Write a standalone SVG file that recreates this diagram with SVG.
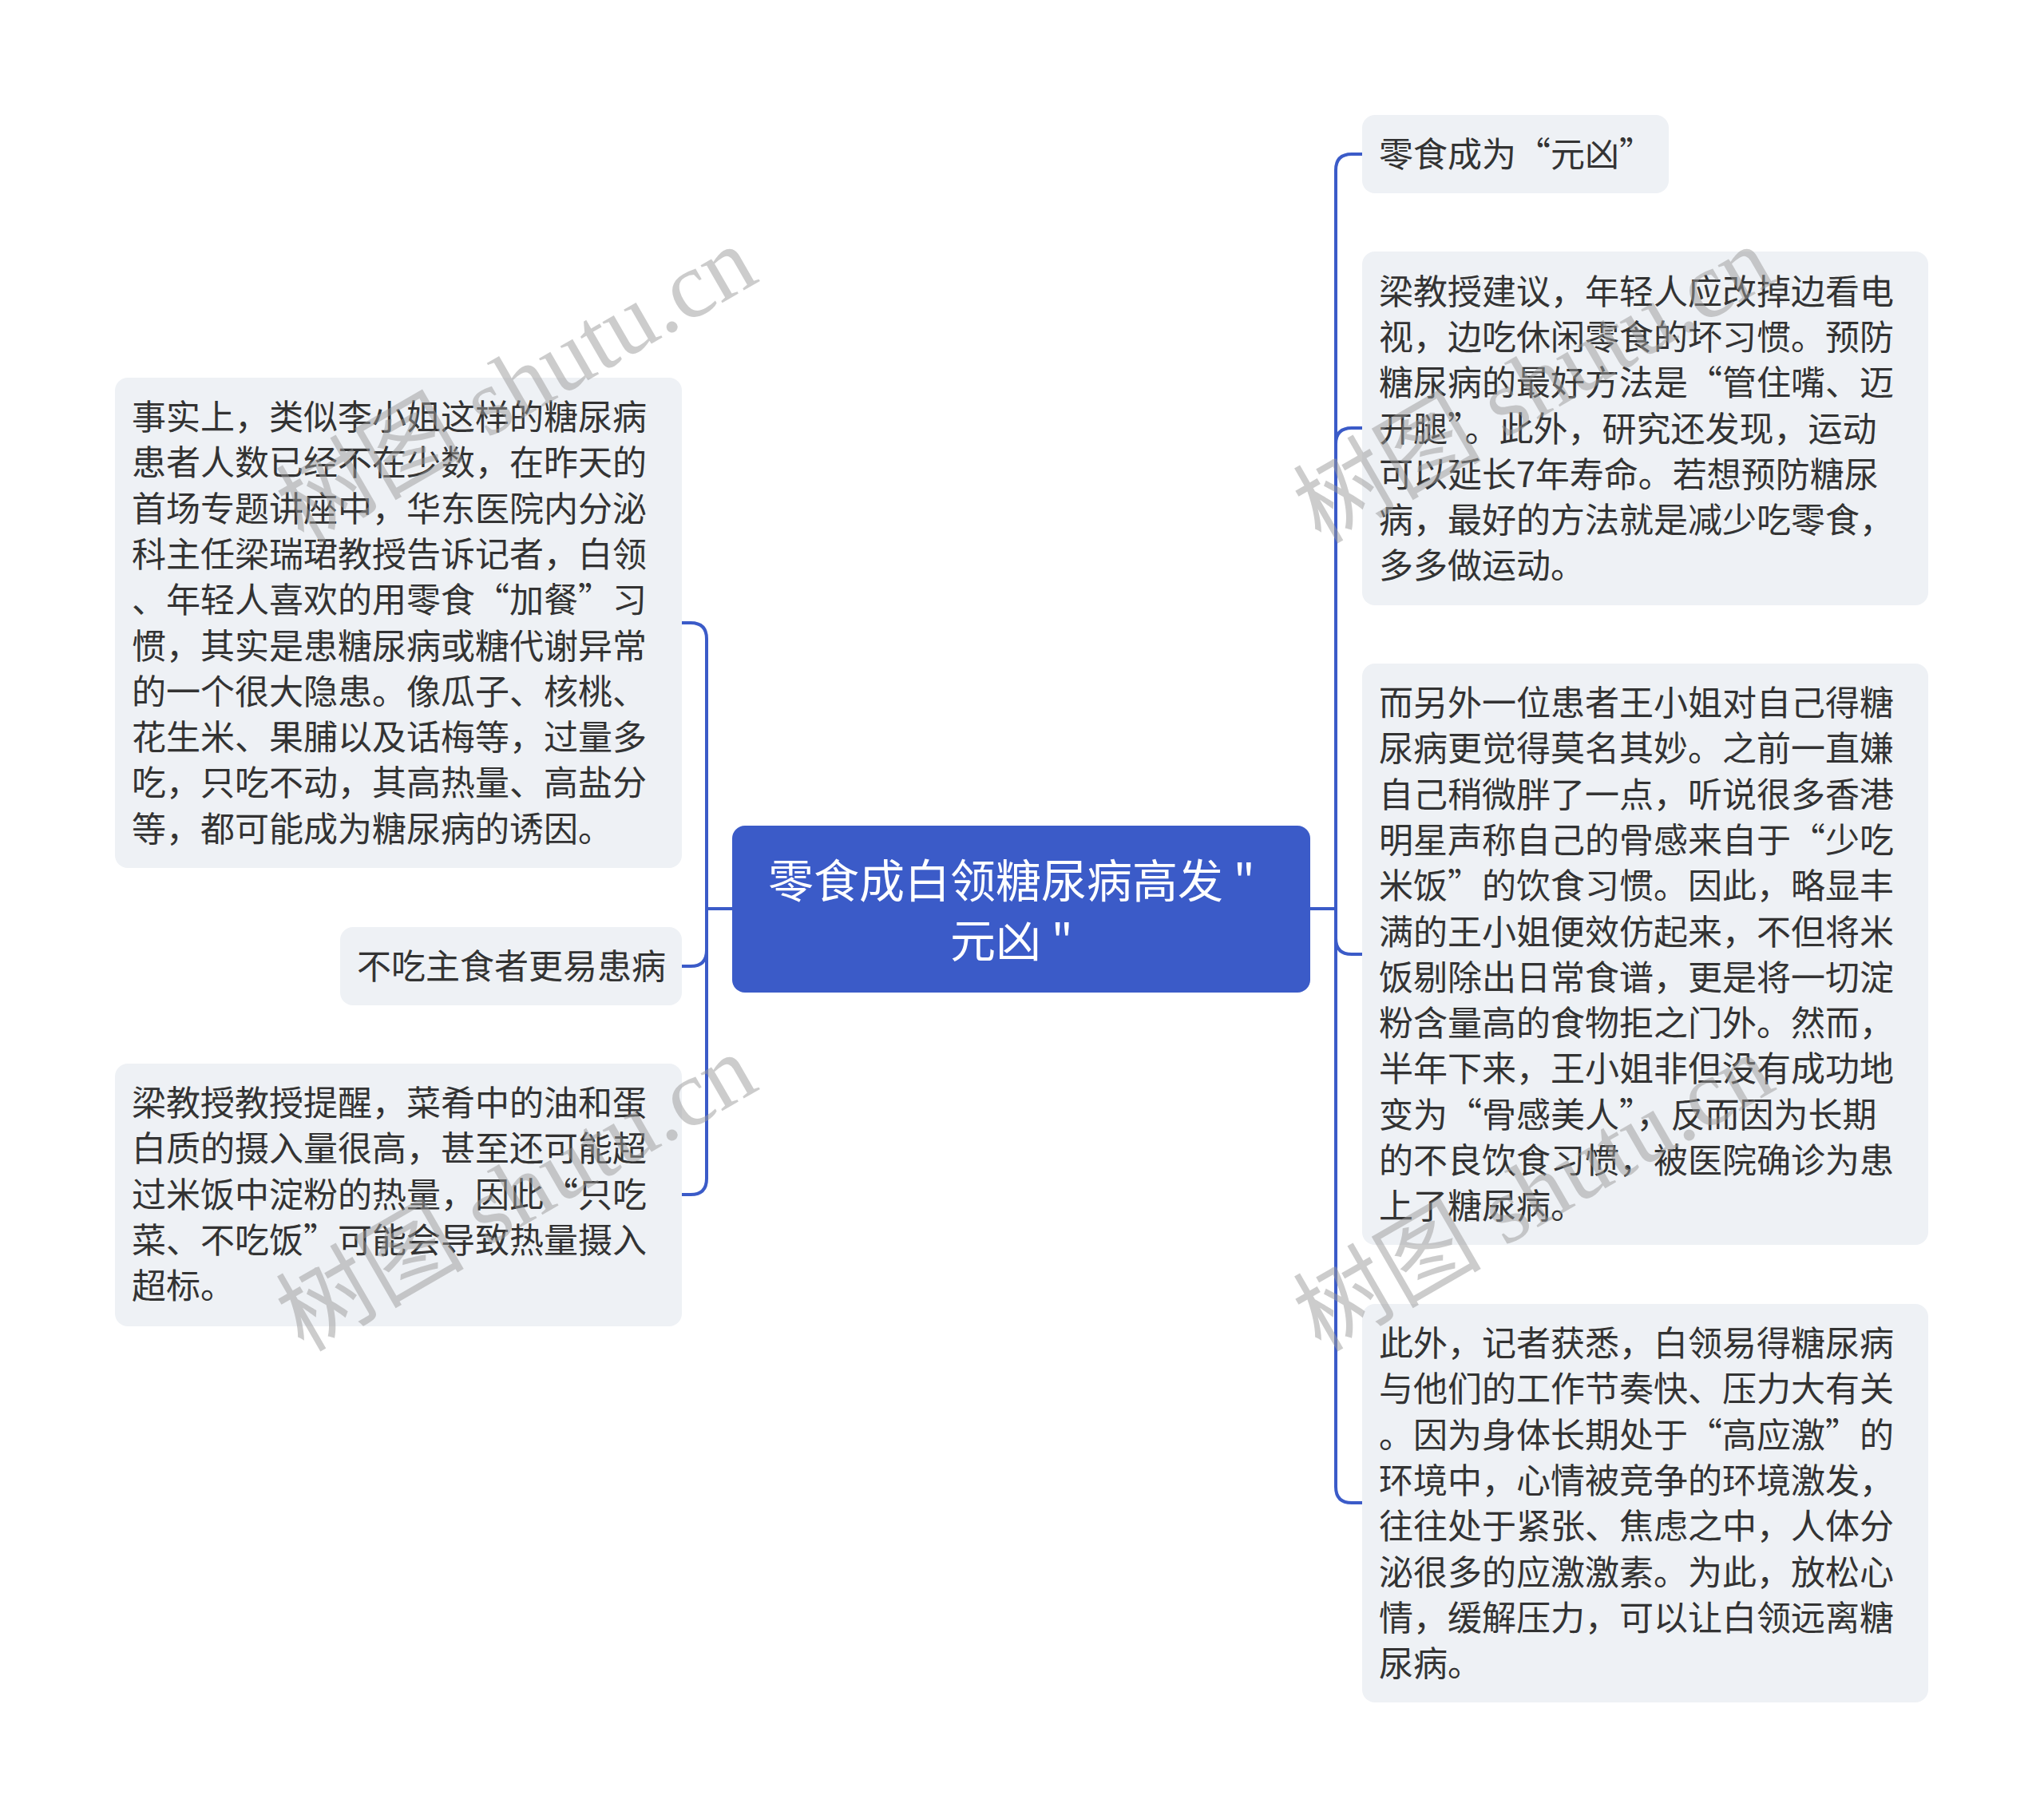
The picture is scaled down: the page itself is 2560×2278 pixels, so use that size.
<svg xmlns="http://www.w3.org/2000/svg" width="2560" height="2278" viewBox="0 0 2560 2278">
<style>
.node{fill:#eef1f5}
.t{font-family:"Noto Sans CJK SC","Noto Sans",sans-serif;font-size:43px;fill:#333333}
.title{font-family:"Noto Sans CJK SC","Noto Sans",sans-serif;font-size:57px;fill:#ffffff;text-anchor:middle}
.conn{fill:none;stroke:#3b5bc8;stroke-width:4;stroke-linecap:round}
.wm{font-family:"Liberation Serif","Noto Sans CJK SC",serif;font-size:118px;fill:#9a9a9a;fill-opacity:0.5}
</style>
<rect width="2560" height="2278" fill="#ffffff"/>
<g id="connectors">
<path class="conn" d="M1641,1138 H1673"/>
<path class="conn" d="M1673,1138 V213 Q1673,193 1693,193 H1706"/>
<path class="conn" d="M1673,1138 V556 Q1673,536 1693,536 H1706"/>
<path class="conn" d="M1673,1138 V1175 Q1673,1195 1693,1195 H1706"/>
<path class="conn" d="M1673,1138 V1862 Q1673,1882 1693,1882 H1706"/>
<path class="conn" d="M917,1138 H885"/>
<path class="conn" d="M885,1138 V800 Q885,780 865,780 H854"/>
<path class="conn" d="M885,1138 V1190 Q885,1210 865,1210 H854"/>
<path class="conn" d="M885,1138 V1476 Q885,1496 865,1496 H854"/>
</g>
<g id="center">
<rect x="917" y="1034" width="724" height="209" rx="16" fill="#3b5bc8"/>
<text class="title" x="1267" y="1124">零食成白领糖尿病高发 "</text>
<text class="title" x="1267" y="1199">元凶 "</text>
</g>
<g id="left1">
<rect class="node" x="144" y="473" width="710" height="614" rx="16"/>
<text class="t" x="165" y="538">事实上，类似李小姐这样的糖尿病</text>
<text class="t" x="165" y="595.3">患者人数已经不在少数，在昨天的</text>
<text class="t" x="165" y="652.6">首场专题讲座中，华东医院内分泌</text>
<text class="t" x="165" y="709.9">科主任梁瑞珺教授告诉记者，白领</text>
<text class="t" x="165" y="767.2">、年轻人喜欢的用零食“加餐”习</text>
<text class="t" x="165" y="824.5">惯，其实是患糖尿病或糖代谢异常</text>
<text class="t" x="165" y="881.8">的一个很大隐患。像瓜子、核桃、</text>
<text class="t" x="165" y="939.1">花生米、果脯以及话梅等，过量多</text>
<text class="t" x="165" y="996.4">吃，只吃不动，其高热量、高盐分</text>
<text class="t" x="165" y="1053.7">等，都可能成为糖尿病的诱因。</text>
</g>
<g id="left2">
<rect class="node" x="426" y="1161" width="428" height="98" rx="16"/>
<text class="t" x="447" y="1226">不吃主食者更易患病</text>
</g>
<g id="left3">
<rect class="node" x="144" y="1332" width="710" height="329" rx="16"/>
<text class="t" x="165" y="1397">梁教授教授提醒，菜肴中的油和蛋</text>
<text class="t" x="165" y="1454.3">白质的摄入量很高，甚至还可能超</text>
<text class="t" x="165" y="1511.6">过米饭中淀粉的热量，因此“只吃</text>
<text class="t" x="165" y="1568.9">菜、不吃饭”可能会导致热量摄入</text>
<text class="t" x="165" y="1626.2">超标。</text>
</g>
<g id="right1">
<rect class="node" x="1706" y="144" width="384" height="98" rx="16"/>
<text class="t" x="1727" y="209">零食成为“元凶”</text>
</g>
<g id="right2">
<rect class="node" x="1706" y="315" width="709" height="443" rx="16"/>
<text class="t" x="1727" y="380.6">梁教授建议，年轻人应改掉边看电</text>
<text class="t" x="1727" y="437.9">视，边吃休闲零食的坏习惯。预防</text>
<text class="t" x="1727" y="495.2">糖尿病的最好方法是“管住嘴、迈</text>
<text class="t" x="1727" y="552.5">开腿”。此外，研究还发现，运动</text>
<text class="t" x="1727" y="609.8">可以延长7年寿命。若想预防糖尿</text>
<text class="t" x="1727" y="667.1">病，最好的方法就是减少吃零食，</text>
<text class="t" x="1727" y="724.4">多多做运动。</text>
</g>
<g id="right3">
<rect class="node" x="1706" y="831" width="709" height="728" rx="16"/>
<text class="t" x="1727" y="896">而另外一位患者王小姐对自己得糖</text>
<text class="t" x="1727" y="953.3">尿病更觉得莫名其妙。之前一直嫌</text>
<text class="t" x="1727" y="1010.6">自己稍微胖了一点，听说很多香港</text>
<text class="t" x="1727" y="1067.9">明星声称自己的骨感来自于“少吃</text>
<text class="t" x="1727" y="1125.2">米饭”的饮食习惯。因此，略显丰</text>
<text class="t" x="1727" y="1182.5">满的王小姐便效仿起来，不但将米</text>
<text class="t" x="1727" y="1239.8">饭剔除出日常食谱，更是将一切淀</text>
<text class="t" x="1727" y="1297.1">粉含量高的食物拒之门外。然而，</text>
<text class="t" x="1727" y="1354.4">半年下来，王小姐非但没有成功地</text>
<text class="t" x="1727" y="1411.7">变为“骨感美人”，反而因为长期</text>
<text class="t" x="1727" y="1469">的不良饮食习惯，被医院确诊为患</text>
<text class="t" x="1727" y="1526.3">上了糖尿病。</text>
</g>
<g id="right4">
<rect class="node" x="1706" y="1633" width="709" height="499" rx="16"/>
<text class="t" x="1727" y="1698">此外，记者获悉，白领易得糖尿病</text>
<text class="t" x="1727" y="1755.3">与他们的工作节奏快、压力大有关</text>
<text class="t" x="1727" y="1812.6">。因为身体长期处于“高应激”的</text>
<text class="t" x="1727" y="1869.9">环境中，心情被竞争的环境激发，</text>
<text class="t" x="1727" y="1927.2">往往处于紧张、焦虑之中，人体分</text>
<text class="t" x="1727" y="1984.5">泌很多的应激激素。为此，放松心</text>
<text class="t" x="1727" y="2041.8">情，缓解压力，可以让白领远离糖</text>
<text class="t" x="1727" y="2099.1">尿病。</text>
</g>
<g id="watermarks">
<text class="wm" x="380" y="682" transform="rotate(-30 380 682)">树图 shutu.cn</text>
<text class="wm" x="380" y="1694" transform="rotate(-30 380 1694)">树图 shutu.cn</text>
<text class="wm" x="1654" y="682" transform="rotate(-30 1654 682)">树图 shutu.cn</text>
<text class="wm" x="1654" y="1694" transform="rotate(-30 1654 1694)">树图 shutu.cn</text>
</g>
</svg>
